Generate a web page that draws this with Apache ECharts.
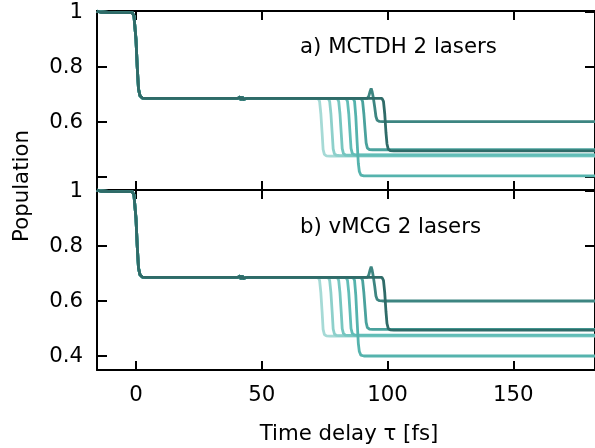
<!DOCTYPE html>
<html>
<head>
<meta charset="utf-8">
<script src="https://cdn.jsdelivr.net/npm/echarts@6/dist/echarts.min.js"></script>
<style>html,body{margin:0;padding:0;background:#fff;}#c{width:595px;height:448px;}</style>
</head>
<body>
<div id="c"></div>
<script>
// ---- axis ticks / labels ----
const xTicks = [0, 50, 100, 150];
const yTicks = [0.4, 0.6, 0.8, 1];
const yLabelsTop = [0.6, 0.8, 1];
const yLabelsBottom = [0.4, 0.6, 0.8, 1];
const panelTitles = ['a) MCTDH 2 lasers', 'b) vMCG 2 lasers'];
const lineColors = ['#a6dad6', '#8dd0cb', '#76c6c0', '#62bdb7', '#55b3ad', '#4aa29d', '#3d8581', '#2f6b68'];

// ---- shared early part (both panels) ----
const commonA = [[-15.5,1.003],[-15,0.997],[-14,0.999],[-8,0.998],[-1.5,0.998],[-0.8,0.985],[0,0.90],[0.5,0.80],[1.0,0.72],[1.6,0.695],[2.5,0.687],[4,0.686],[40.5,0.686],[41,0.681],[41.4,0.691],[41.8,0.680],[42.2,0.692],[42.6,0.682],[43,0.689],[43.6,0.685],[44.5,0.686],[71,0.686]];
const commonB = [[-15.5,1.003],[-15,0.997],[-14,0.999],[-8,0.998],[-1.5,0.998],[-0.8,0.985],[0,0.90],[0.5,0.80],[1.0,0.72],[1.6,0.695],[2.5,0.687],[4,0.686],[40.5,0.686],[41,0.681],[41.4,0.691],[41.8,0.680],[42.2,0.692],[42.6,0.682],[43,0.689],[43.6,0.685],[44.5,0.686],[71,0.686]];

// ---- panel a tails ----
const a1 = [[72.4,0.686],[73.0,0.675],[73.5,0.63],[74.0,0.56],[74.4,0.50],[74.9,0.482],[75.7,0.477],[77,0.476],[182.5,0.476]];
const a2 = [[76.4,0.686],[77.0,0.675],[77.5,0.63],[78.0,0.56],[78.4,0.502],[78.9,0.484],[79.7,0.479],[81,0.478],[182.5,0.478]];
const a3 = [[80.0,0.686],[80.6,0.675],[81.1,0.63],[81.6,0.56],[82.0,0.503],[82.5,0.485],[83.3,0.480],[84.6,0.479],[182.5,0.479]];
const a4 = [[83.5,0.686],[84.1,0.675],[84.6,0.63],[85.1,0.56],[85.5,0.504],[86.0,0.486],[86.8,0.481],[88.1,0.480],[182.5,0.480]];
const a5 = [[86.3,0.686],[86.9,0.675],[87.4,0.62],[87.9,0.53],[88.4,0.45],[88.8,0.420],[89.4,0.407],[90.6,0.404],[182.5,0.404]];
const a6 = [[89.5,0.686],[90.1,0.675],[90.6,0.63],[91.1,0.57],[91.5,0.524],[92.0,0.505],[92.8,0.500],[94.1,0.499],[182.5,0.499]];
const a7 = [[92.0,0.686],[92.6,0.695],[93.1,0.712],[93.5,0.722],[93.9,0.710],[94.4,0.686],[94.9,0.655],[95.4,0.620],[95.9,0.606],[96.8,0.602],[98,0.601],[182.5,0.601]];
const a8 = [[97.8,0.686],[98.4,0.675],[98.9,0.63],[99.4,0.56],[99.8,0.52],[100.3,0.501],[101.1,0.496],[102.5,0.495],[182.5,0.495]];

// ---- panel b tails ----
const b1 = [[72.4,0.686],[73.0,0.675],[73.5,0.63],[74.0,0.56],[74.4,0.497],[74.9,0.478],[75.7,0.473],[77,0.472],[182.5,0.472]];
const b2 = [[76.4,0.686],[77.0,0.675],[77.5,0.63],[78.0,0.56],[78.4,0.498],[78.9,0.480],[79.7,0.475],[81,0.474],[182.5,0.474]];
const b3 = [[80.0,0.686],[80.6,0.675],[81.1,0.63],[81.6,0.56],[82.0,0.499],[82.5,0.481],[83.3,0.476],[84.6,0.475],[182.5,0.475]];
const b4 = [[83.5,0.686],[84.1,0.675],[84.6,0.63],[85.1,0.56],[85.5,0.500],[86.0,0.482],[86.8,0.477],[88.1,0.476],[182.5,0.476]];
const b5 = [[86.3,0.686],[86.9,0.675],[87.4,0.62],[87.9,0.53],[88.4,0.446],[88.8,0.416],[89.4,0.403],[90.6,0.400],[182.5,0.400]];
const b6 = [[89.5,0.686],[90.1,0.675],[90.6,0.63],[91.1,0.57],[91.5,0.522],[92.0,0.503],[92.8,0.498],[94.1,0.497],[182.5,0.497]];
const b7 = [[92.0,0.686],[92.6,0.696],[93.1,0.714],[93.5,0.725],[93.9,0.712],[94.4,0.686],[94.9,0.655],[95.4,0.618],[95.9,0.605],[96.8,0.601],[98,0.600],[182.5,0.600]];
const b8 = [[97.8,0.686],[98.4,0.675],[98.9,0.63],[99.4,0.56],[99.8,0.518],[100.3,0.500],[101.1,0.495],[102.5,0.494],[182.5,0.494]];

const tailsA = [a1, a2, a3, a4, a5, a6, a7, a8];
const tailsB = [b1, b2, b3, b4, b5, b6, b7, b8];

const FONT = 'DejaVu Sans';
const FS = 21.3;
const X_MIN = -15.5, X_MAX = 182.5;

function xAx(grid, pos, showLabels) {
  return {
    type: 'value', gridIndex: grid, position: pos, min: X_MIN, max: X_MAX,
    axisLine: { show: true, onZero: false, lineStyle: { color: '#000', width: 2 } },
    axisTick: { show: true, inside: true, length: 9, lineStyle: { color: '#000', width: 2 }, customValues: xTicks },
    axisLabel: { show: showLabels, customValues: xTicks, color: '#000', fontSize: FS, fontFamily: FONT, margin: 15 },
    splitLine: { show: false }
  };
}
function yAx(grid, pos, min, max, labels) {
  return {
    type: 'value', gridIndex: grid, position: pos, min: min, max: max,
    axisLine: { show: true, onZero: false, lineStyle: { color: '#000', width: 2 } },
    axisTick: { show: true, inside: true, length: 10, lineStyle: { color: '#000', width: 2 }, customValues: yTicks },
    axisLabel: { show: !!labels, customValues: labels || yTicks, color: '#000', fontSize: FS, fontFamily: FONT, margin: 14,
      formatter: v => (Math.abs(v - 1) < 1e-9 ? '1' : v.toFixed(1)) },
    splitLine: { show: false }
  };
}

const series = [];
tailsA.forEach((t, i) => series.push({
  type: 'line', xAxisIndex: 0, yAxisIndex: 0, data: commonA.concat(t), showSymbol: false,
  lineStyle: { color: lineColors[i], width: 2.8 }, itemStyle: { color: lineColors[i] }, animation: false
}));
tailsB.forEach((t, i) => series.push({
  type: 'line', xAxisIndex: 2, yAxisIndex: 2, data: commonB.concat(t), showSymbol: false,
  lineStyle: { color: lineColors[i], width: 2.8 }, itemStyle: { color: lineColors[i] }, animation: false
}));

const chart = echarts.init(document.getElementById('c'), null, { renderer: 'canvas' });
chart.setOption({
  animation: false,
  backgroundColor: '#fff',
  grid: [
    { left: 97, top: 11, width: 499, height: 179 },
    { left: 97, top: 190, width: 499, height: 180 }
  ],
  xAxis: [xAx(0, 'bottom', false), xAx(0, 'top', false), xAx(1, 'bottom', true), xAx(1, 'top', false)],
  yAxis: [
    yAx(0, 'left', 0.3527, 1.0036, yLabelsTop), yAx(0, 'right', 0.3527, 1.0036, null),
    yAx(1, 'left', 0.349, 1.0036, yLabelsBottom), yAx(1, 'right', 0.349, 1.0036, null)
  ],
  series: series,
  graphic: [
    { type: 'text', x: 300, y: 47, style: { text: panelTitles[0], fontSize: FS, fontFamily: FONT, fill: '#000', verticalAlign: 'middle' } },
    { type: 'text', x: 300, y: 227, style: { text: panelTitles[1], fontSize: FS, fontFamily: FONT, fill: '#000', verticalAlign: 'middle' } },
    { type: 'text', x: 349, y: 434, style: { text: 'Time delay τ [fs]', fontSize: FS, fontFamily: FONT, fill: '#000', align: 'center', verticalAlign: 'middle' } },
    { type: 'text', x: 22, y: 186, rotation: Math.PI / 2, style: { text: 'Population', fontSize: FS, fontFamily: FONT, fill: '#000', align: 'center', verticalAlign: 'middle' } }
  ]
});
</script>
</body>
</html>
